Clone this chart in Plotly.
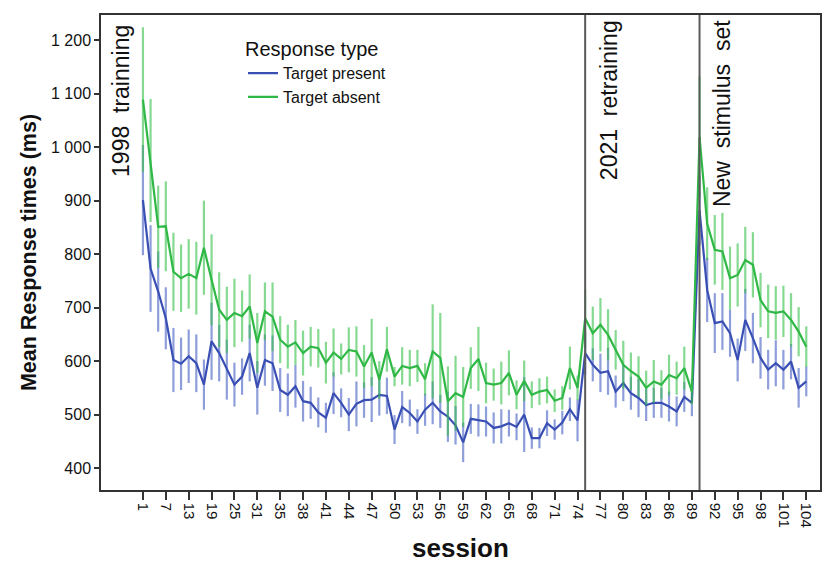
import plotly.graph_objects as go

# Session categories (categorical axis, as in the SPSS output)
sessions = [1, 3, 5, 7, 9, 11, 13, 15, 17, 19, 21, 23, 25, 27, 29, 31, 33, 34] + list(range(35, 105))
tick_labels = ["1", "7", "13", "19", "25", "31", "35", "38", "41", "44", "47", "50", "53", "56",
               "59", "62", "65", "68", "71", "74", "77", "80", "83", "86", "89", "92", "95", "98",
               "101", "104"]
y_ticks = [400, 500, 600, 700, 800, 900, 1000, 1100, 1200]

present_mean = [901, 773, 730, 680, 602, 595, 609, 596, 556, 637, 615, 584, 556, 571, 615, 550,
                602, 596, 546, 537, 553, 525, 522, 504, 494, 540, 522, 500, 520, 527, 528, 537,
                535, 472, 514, 503, 487, 509, 522, 506, 496, 480, 448, 492, 489, 487, 475, 478,
                484, 477, 500, 456, 456, 484, 472, 485, 510, 489, 615, 593, 578, 581, 543, 559,
                540, 531, 518, 522, 522, 515, 506, 533, 522, 882, 733, 671, 674, 652, 602, 677,
                643, 606, 584, 596, 584, 599, 550, 562]
present_err = [103, 81, 75, 58, 60, 49, 50, 54, 47, 72, 53, 56, 41, 34, 53, 50,
               48, 52, 41, 40, 40, 38, 30, 28, 28, 39, 27, 31, 42, 33, 42, 39,
               34, 27, 30, 25, 23, 30, 40, 31, 47, 36, 37, 28, 30, 28, 29, 32,
               25, 25, 70, 20, 19, 24, 19, 22, 22, 39, 40, 31, 36, 44, 30, 34,
               31, 36, 30, 28, 28, 28, 28, 28, 25, 65, 60, 56, 53, 44, 40, 58,
               47, 39, 37, 43, 37, 33, 37, 28]

absent_mean = [1089, 975, 851, 852, 767, 755, 763, 755, 812, 752, 696, 677, 690, 684, 702, 634,
               693, 683, 640, 627, 635, 615, 627, 624, 597, 616, 604, 621, 618, 590, 616, 565,
               622, 571, 591, 587, 591, 566, 618, 606, 525, 540, 533, 587, 604, 559, 556, 559,
               578, 537, 563, 537, 543, 546, 526, 531, 587, 550, 680, 652, 668, 649, 621, 593,
               581, 571, 550, 562, 556, 574, 568, 587, 543, 1019, 857, 808, 805, 755, 761, 789,
               780, 714, 693, 690, 693, 677, 655, 627]
absent_err = [135, 115, 77, 84, 73, 63, 65, 68, 88, 85, 70, 62, 64, 48, 60, 56,
              54, 64, 44, 41, 42, 42, 37, 36, 39, 45, 29, 42, 47, 40, 63, 35,
              42, 18, 35, 34, 30, 30, 88, 84, 65, 70, 56, 39, 60, 38, 30, 40,
              42, 27, 38, 25, 25, 25, 21, 22, 40, 23, 54, 50, 50, 48, 37, 45,
              35, 38, 32, 40, 27, 38, 31, 40, 24, 113, 68, 65, 72, 59, 59, 62,
              61, 51, 50, 50, 48, 50, 46, 38]

phase_starts = [75, 90]
phase_labels = ["1998\u00a0 trainning", "2021\u00a0 retraining", "New\u00a0 stimulus\u00a0 set"]

FONT = "Liberation Sans, Arial, sans-serif"
x = [str(s) for s in sessions]

fig = go.Figure()
fig.add_trace(go.Scatter(
    x=x, y=present_mean, mode="lines", name="Target present",
    line=dict(color="#3a4fb3", width=2.2),
    error_y=dict(type="data", array=present_err, color="rgba(72,98,196,0.62)", thickness=2.2, width=0),
))
fig.add_trace(go.Scatter(
    x=x, y=absent_mean, mode="lines", name="Target absent",
    line=dict(color="#2fb845", width=2.2),
    error_y=dict(type="data", array=absent_err, color="rgba(52,192,72,0.6)", thickness=2.2, width=0),
))

for s in phase_starts:
    idx = sessions.index(s)
    fig.add_shape(type="line", xref="x", yref="paper", x0=idx, x1=idx, y0=0, y1=1,
                  line=dict(color="#5a5a5a", width=2))

ann_font = dict(family=FONT, size=23, color="#111111")
fig.add_annotation(x=0, xref="x", y=1, yref="paper", text=phase_labels[0], textangle=-90,
                   showarrow=False, xanchor="right", yanchor="top", xshift=-7, yshift=-8, font=ann_font)
fig.add_annotation(x=sessions.index(phase_starts[0]), xref="x", y=1, yref="paper", text=phase_labels[1],
                   textangle=-90, showarrow=False, xanchor="left", yanchor="top", xshift=9, yshift=-3,
                   font=ann_font)
fig.add_annotation(x=sessions.index(phase_starts[1]), xref="x", y=1, yref="paper", text=phase_labels[2],
                   textangle=-90, showarrow=False, xanchor="left", yanchor="top", xshift=7, yshift=-3,
                   font=ann_font)
# x-axis title
fig.add_annotation(x=0.5, xref="paper", y=0, yref="paper", text="<b>session</b>", showarrow=False,
                   xanchor="center", yanchor="middle", yshift=-58,
                   font=dict(size=26, family=FONT, color="#111111"))

fig.update_layout(
    width=826, height=558,
    margin=dict(l=93, r=14, t=7, b=76),
    paper_bgcolor="white", plot_bgcolor="white",
    font=dict(family=FONT, color="#111111"),
    separators=". ",
    showlegend=True,
    legend=dict(
        x=0.1975, y=0.968, xanchor="left", yanchor="top",
        bgcolor="rgba(0,0,0,0)",
        title=dict(text="Response type", font=dict(size=20, family=FONT, color="#111111"), side="top"),
        font=dict(size=16, family=FONT, color="#111111"),
        itemwidth=30, tracegroupgap=0,
    ),
    xaxis=dict(
        type="category", categoryorder="array", categoryarray=x,
        range=[-5.5, 88.8],
        tickmode="array", tickvals=tick_labels, ticktext=tick_labels,
        tickangle=90, ticks="outside", ticklen=8, tickwidth=1.5, tickcolor="#333333",
        tickfont=dict(size=15, family=FONT, color="#111111"),
        showgrid=False, zeroline=False, automargin=False,
        showline=True, linecolor="#333333", linewidth=1.5, mirror=True,
    ),
    yaxis=dict(
        range=[359, 1247],
        tickmode="array", tickvals=y_ticks,
        tickformat=",d", separatethousands=True,
        ticks="outside", ticklen=5, tickwidth=1.5, tickcolor="#333333",
        tickfont=dict(size=16, family=FONT, color="#111111"),
        showgrid=False, zeroline=False,
        showline=True, linecolor="#333333", linewidth=1.5, mirror=True,
        title=dict(text="<b>Mean Response times (ms)</b>", font=dict(size=21.5, family=FONT, color="#111111"),
                   standoff=8),
    ),
)

fig.write_html("out.html")
